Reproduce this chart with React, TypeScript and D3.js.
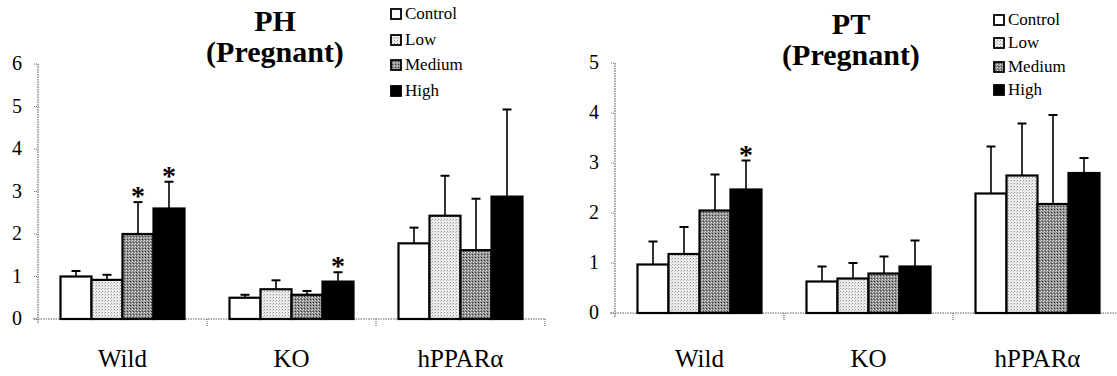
import { useEffect, useRef } from 'react';
import * as d3 from 'd3';

const groups = ['Wild', 'KO', 'hPPARα'];
const doses = ['Control', 'Low', 'Medium', 'High'];

// PH panel: means, SD (upper bar only), significance
const phMean = [
  [1.0, 0.92, 2.0, 2.6],
  [0.5, 0.7, 0.57, 0.88],
  [1.78, 2.43, 1.62, 2.88],
];
const phSd = [
  [0.13, 0.12, 0.75, 0.63],
  [0.07, 0.21, 0.09, 0.22],
  [0.37, 0.94, 1.21, 2.05],
];
const phStar = [
  [0, 0, 1, 1],
  [0, 0, 0, 1],
  [0, 0, 0, 0],
];

// PT panel
const ptMean = [
  [0.97, 1.18, 2.05, 2.47],
  [0.63, 0.69, 0.79, 0.93],
  [2.39, 2.75, 2.18, 2.8],
];
const ptSd = [
  [0.46, 0.54, 0.72, 0.58],
  [0.3, 0.31, 0.34, 0.52],
  [0.94, 1.04, 1.78, 0.3],
];
const ptStar = [
  [0, 0, 0, 1],
  [0, 0, 0, 0],
  [0, 0, 0, 0],
];

const phTicks = [0, 1, 2, 3, 4, 5, 6];
const ptTicks = [0, 1, 2, 3, 4, 5];

const FONT = 'Liberation Serif, Times New Roman, serif';
const fills = ['#ffffff', 'url(#patLow)', 'url(#patMed)', '#000000'];

const panels = [
  {
    name: 'PH',
    mean: phMean,
    sd: phSd,
    star: phStar,
    ticks: phTicks,
    x0: 38, bandW: 169, y0: 319, yTop: 64,
    titleX: 275, titleY: 31,
    legX: 391, legY: [14, 40, 65, 91],
    axisEnd: 545,
  },
  {
    name: 'PT',
    mean: ptMean,
    sd: ptSd,
    star: ptStar,
    ticks: ptTicks,
    x0: 615, bandW: 169, y0: 313, yTop: 63,
    titleX: 851, titleY: 34,
    legX: 994, legY: [20, 43, 67, 90],
    axisEnd: 1117,
  },
];

export default function App() {
  const svgRef = useRef<SVGSVGElement>(null);

  useEffect(() => {
    if (!svgRef.current) return;
    const svg = d3.select(svgRef.current);
    svg.selectAll('*').remove();

    // stipple patterns for Low / Medium
    const defs = svg.append('defs');
    const low = defs.append('pattern').attr('id', 'patLow')
      .attr('width', 3).attr('height', 3).attr('patternUnits', 'userSpaceOnUse');
    low.append('rect').attr('width', 3).attr('height', 3).attr('fill', '#ececec');
    low.append('rect').attr('x', 0).attr('y', 0).attr('width', 1).attr('height', 1).attr('fill', '#9a9a9a');
    low.append('rect').attr('x', 2).attr('y', 1).attr('width', 1).attr('height', 1).attr('fill', '#c4c4c4');
    const med = defs.append('pattern').attr('id', 'patMed')
      .attr('width', 3).attr('height', 3).attr('patternUnits', 'userSpaceOnUse');
    med.append('rect').attr('width', 3).attr('height', 3).attr('fill', '#8e8e8e');
    med.append('rect').attr('x', 0).attr('y', 0).attr('width', 1).attr('height', 1).attr('fill', '#e0e0e0');
    med.append('rect').attr('x', 1).attr('y', 2).attr('width', 1).attr('height', 1).attr('fill', '#3a3a3a');
    med.append('rect').attr('x', 2).attr('y', 1).attr('width', 1).attr('height', 1).attr('fill', '#bdbdbd');

    panels.forEach((p) => {
      const g = svg.append('g');
      const yMax = p.ticks[p.ticks.length - 1];
      const y = d3.scaleLinear().domain([0, yMax]).range([p.y0, p.yTop]);
      const x = d3.scaleBand().domain(groups).range([p.x0, p.x0 + p.bandW * 3]);

      // y axis (dotted)
      g.append('line')
        .attr('x1', p.x0).attr('x2', p.x0)
        .attr('y1', y(0) + 4).attr('y2', y(yMax))
        .attr('stroke', '#666').attr('stroke-width', 1.2).attr('stroke-dasharray', '1.5,1');
      g.selectAll('.yt').data(p.ticks).join('line')
        .attr('x1', p.x0 - 4).attr('x2', p.x0)
        .attr('y1', (d) => y(d)).attr('y2', (d) => y(d))
        .attr('stroke', '#666').attr('stroke-width', 1.2).attr('stroke-dasharray', '1,1');
      g.selectAll('.yl').data(p.ticks).join('text')
        .attr('x', p.x0 - 16).attr('y', (d) => y(d) + 6)
        .attr('text-anchor', 'end')
        .attr('font-family', FONT).attr('font-size', 20)
        .attr('fill', '#000')
        .text((d) => d);

      // x axis (dotted) and group boundary ticks
      g.append('line')
        .attr('x1', p.x0 - 5).attr('x2', p.axisEnd)
        .attr('y1', y(0)).attr('y2', y(0))
        .attr('stroke', '#666').attr('stroke-width', 1.2).attr('stroke-dasharray', '1.5,1');
      g.selectAll('.xt').data(groups).join('line')
        .attr('x1', (d) => (x(d) as number) + x.bandwidth())
        .attr('x2', (d) => (x(d) as number) + x.bandwidth())
        .attr('y1', y(0)).attr('y2', y(0) + 7)
        .attr('stroke', '#666').attr('stroke-width', 1.2).attr('stroke-dasharray', '1,1');

      // category labels
      g.selectAll('.xl').data(groups).join('text')
        .attr('x', (d) => (x(d) as number) + x.bandwidth() / 2)
        .attr('y', 367)
        .attr('text-anchor', 'middle')
        .attr('font-family', FONT).attr('font-size', 25)
        .attr('fill', '#000')
        .text((d) => d);

      // bars
      groups.forEach((grp, gi) => {
        const cx = (x(grp) as number) + x.bandwidth() / 2;
        const inner = d3.scaleBand().domain(doses).range([cx - 62, cx + 62]);
        const rows = doses.map((dose, di) => ({
          dose, di, v: p.mean[gi][di], e: p.sd[gi][di], s: p.star[gi][di],
        }));
        const bg = g.append('g');

        // error bars first (upper only)
        bg.selectAll('.err').data(rows).join('line')
          .attr('x1', (d) => (inner(d.dose) as number) + inner.bandwidth() / 2)
          .attr('x2', (d) => (inner(d.dose) as number) + inner.bandwidth() / 2)
          .attr('y1', (d) => y(d.v)).attr('y2', (d) => y(d.v + d.e))
          .attr('stroke', '#000').attr('stroke-width', 1.6);
        bg.selectAll('.cap').data(rows).join('line')
          .attr('x1', (d) => (inner(d.dose) as number) + inner.bandwidth() / 2 - 4.5)
          .attr('x2', (d) => (inner(d.dose) as number) + inner.bandwidth() / 2 + 4.5)
          .attr('y1', (d) => y(d.v + d.e)).attr('y2', (d) => y(d.v + d.e))
          .attr('stroke', '#000').attr('stroke-width', 2);

        bg.selectAll('.bar').data(rows).join('rect')
          .attr('x', (d) => inner(d.dose) as number)
          .attr('y', (d) => y(d.v))
          .attr('width', inner.bandwidth())
          .attr('height', (d) => y(0) - y(d.v))
          .attr('fill', (d) => fills[d.di])
          .attr('stroke', '#000').attr('stroke-width', 2.2);

        bg.selectAll('.star').data(rows.filter((d) => d.s)).join('text')
          .attr('x', (d) => (inner(d.dose) as number) + inner.bandwidth() / 2)
          .attr('y', (d) => y(d.v + d.e) + 3)
          .attr('text-anchor', 'middle')
          .attr('font-family', FONT).attr('font-weight', 'bold').attr('font-size', 28)
          .attr('fill', '#000')
          .text('*');
      });

      // title
      const title = g.append('text')
        .attr('text-anchor', 'middle')
        .attr('font-family', FONT).attr('font-weight', 'bold').attr('font-size', 30)
        .attr('fill', '#000');
      title.append('tspan').attr('x', p.titleX).attr('y', p.titleY).text(p.name);
      title.append('tspan').attr('x', p.titleX).attr('y', p.titleY + 31).text('(Pregnant)');

      // legend
      const leg = g.selectAll('.leg').data(doses).join('g')
        .attr('transform', (d, i) => `translate(${p.legX},${p.legY[i]})`);
      leg.append('rect')
        .attr('x', 0).attr('y', -5).attr('width', 10).attr('height', 10)
        .attr('fill', (d, i) => fills[i])
        .attr('stroke', '#000').attr('stroke-width', 1.8);
      leg.append('text')
        .attr('x', 14).attr('y', 5)
        .attr('font-family', FONT).attr('font-size', 17)
        .attr('fill', '#000')
        .text((d) => d);
    });
  }, []);

  return (
    <svg
      ref={svgRef}
      width={1117}
      height={376}
      style={{ position: 'absolute', left: 0, top: 0, background: '#fff' }}
    />
  );
}
